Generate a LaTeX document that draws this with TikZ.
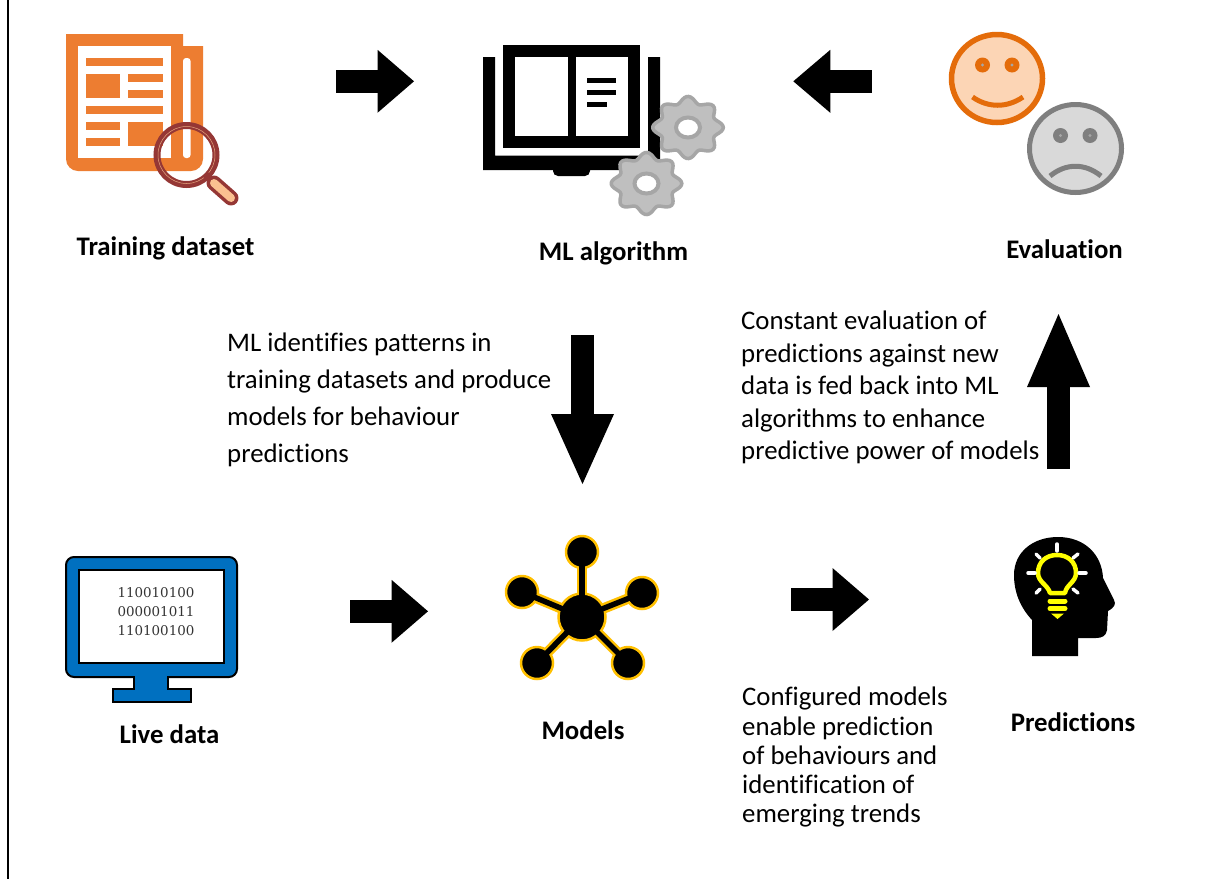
\documentclass[tikz,border=0pt]{standalone}
\usepackage{fontspec}
\setmainfont[Ligatures=NoCommon]{Carlito}
\newfontfamily\binfont{DejaVu Serif}
\usetikzlibrary{arrows.meta}
\definecolor{newsorange}{HTML}{ED7D31}
\definecolor{lensred}{HTML}{953735}
\definecolor{peach}{HTML}{FAC090}
\definecolor{gearfill}{HTML}{BFBFBF}
\definecolor{gearline}{HTML}{A6A6A6}
\definecolor{happyline}{HTML}{E46C0A}
\definecolor{happyfill}{HTML}{FCD5B5}
\definecolor{sadline}{HTML}{7F7F7F}
\definecolor{sadfill}{HTML}{D9D9D9}
\definecolor{screenblue}{HTML}{0070C0}
\definecolor{gold}{HTML}{FFC000}
\definecolor{bulb}{HTML}{FFFF00}
\tikzset{
  blockarrow/.style={draw=black,line width=23pt,-{Triangle[length=#1,width=63pt,line width=0pt]}},
  biglabel/.style={font=\fontsize{26.8}{30}\selectfont\bfseries,inner sep=0pt,anchor=center},
  bodytext/.style={inner sep=0pt,anchor=north west,align=left},
  hub/.style={circle,fill=black,draw=gold,line width=2.5pt,minimum size=#1,inner sep=0pt,outer sep=0pt},
  linkglow/.style={draw=gold,line width=10.5pt},
  linkcore/.style={draw=black,line width=5.5pt,shorten >=-4pt,shorten <=-4pt},
  ray/.style={draw=white,line width=3.5pt,line cap=round},
  filament/.style={draw=bulb,line width=5pt,line cap=round},
  gearbody/.style={fill=gearfill,draw=gearline,line width=3.5pt},
}
\newcommand{\geardraw}[2]{%
  \draw[gearbody] plot[smooth cycle,samples=97,domain=0:356.25,variable=\t]
    ({#1+(31.7+3.6*cos(8*\t))*cos(\t)},{#2+0.88*(31.7+3.6*cos(8*\t))*sin(\t)});
  \draw[fill=white,draw=gearline,line width=4pt] (#1,#2) ellipse[x radius=12,y radius=10];
}
\begin{document}
\begin{tikzpicture}[x=1pt,y=-1pt]
\useasboundingbox (0,0) rectangle (1206,879);
\fill[white] (0,0) rectangle (1206,879);
\draw[black,line width=2pt] (7.5,0) -- (7.5,879);

% newspaper
\fill[newsorange] (66,34) -- (183,34) -- (183,46) -- (203,46) -- (203,159) arc[start angle=0,end angle=90,radius=12] -- (78,171) arc[start angle=90,end angle=180,radius=12] -- cycle;
\fill[white] (78,46) rectangle (171,158);
\fill[white,rounded corners=3pt] (183,58) -- (190.5,58) -- (190.5,158) -- (183,158) -- cycle;
\fill[newsorange] (86,58) rectangle (163,66);
\fill[newsorange] (86,74) rectangle (120,98);
\fill[newsorange] (128,74) rectangle (163,82);
\fill[newsorange] (128,90) rectangle (163,98);
\fill[newsorange] (86,106) rectangle (163,114);
\fill[newsorange] (86,122) rectangle (120,130);
\fill[newsorange] (86,138) rectangle (120,146);
\fill[newsorange] (128,122) rectangle (163,146);
% magnifier
\draw[lensred,line width=7pt] (186.5,155) circle[radius=29.5];
\draw[peach,line width=.5pt,opacity=.8] (186.5,155) circle[radius=28.5];
\draw[lensred,line width=7pt] (205,174) -- (214,183);
\draw[lensred,line width=15pt,line cap=round] (214,183) -- (231,198);
\draw[peach,line width=8pt,line cap=round] (214,183) -- (231,198);

% book
\fill[black] (503,45) rectangle (640,148);
\fill[white] (515,57) rectangle (567.5,136);
\fill[white] (575.5,57) rectangle (628,136);
\fill[black] (587,77.5) rectangle (616,83);
\fill[black] (587,89.5) rectangle (616,95);
\fill[black] (587,101.5) rectangle (607,107);
\fill[black] (483,57) -- (495,57) -- (495,155.5) -- (648,155.5) -- (648,57) -- (660,57) -- (660,170) -- (483,170) -- cycle;
\fill[black,rounded corners=5pt] (553,165) -- (590,165) -- (590,176) -- (553,176) -- cycle;
\geardraw{688}{127.5}
\geardraw{646.5}{183.5}

% faces
\draw[happyline,fill=happyfill,line width=5.5pt] (997,78.5) ellipse[x radius=45.5,y radius=44];
\fill[happyline] (982.5,65) circle[radius=7.5] (1012,65) circle[radius=7.5];
\fill[gearline] (982.5,65) circle[radius=1.6] (1012,65) circle[radius=1.6];
\draw[happyline,line width=5pt] (972.5,97) .. controls (988,108) and (1007,108) .. (1023,97);
\draw[sadline,fill=sadfill,line width=5pt] (1075.5,148.5) ellipse[x radius=46,y radius=44];
\fill[sadline] (1060.5,135.5) circle[radius=7.5] (1090,135.5) circle[radius=7.5];
\fill[gearline] (1060.5,135.5) circle[radius=1.6] (1090,135.5) circle[radius=1.6];
\draw[sadline,line width=5pt] (1050,176) .. controls (1066,163) and (1085,163) .. (1101,176);

% monitor
\draw[black,fill=screenblue,line width=2pt] (134,676) -- (134,689) -- (113,689) -- (113,702) -- (191,702) -- (191,689) -- (168,689) -- (168,676) -- cycle;
\draw[black,fill=screenblue,line width=2pt,rounded corners=8pt] (66,557) rectangle (237,677);
\draw[black,fill=white,line width=2pt] (79,570) rectangle (224,663);
\fill[screenblue] (135,675) rectangle (167,690);
\node[inner sep=0pt,align=center,font=\fontsize{13.4}{19}\binfont,text=black!80] (bits) at (156,612) {110010100\\000001011\\110100100};

% network
\node[hub=47pt] (nc) at (582,617) {};
\node[hub=32pt] (n1) at (582,552) {};
\node[hub=32pt] (n2) at (522,592) {};
\node[hub=32pt] (n3) at (642,593) {};
\node[hub=32pt] (n4) at (537,663) {};
\node[hub=32pt] (n5) at (628,663) {};
\foreach \n in {n1,n2,n3,n4,n5} {
  \draw[linkglow] (nc) -- (\n);
  \draw[linkcore] (nc) -- (\n);
}

% head with bulb
\fill[black] (1032,656) -- (1032,620) .. controls (1020,607) and (1014,592) .. (1014,575) .. controls (1014,552) and (1033,537) .. (1058,537) .. controls (1085,537) and (1102,555) .. (1103,578) -- (1114,600) .. controls (1116,604) and (1115,607) .. (1108,611) -- (1107,630) .. controls (1106,636) and (1102,638) .. (1096,638) -- (1078,638) -- (1078,656) -- cycle;
\draw[bulb,line width=4.5pt,line join=round] (1050,593) -- (1065,593) .. controls (1066,585) and (1076,582) .. (1076,573) .. controls (1076,562) and (1068,555) .. (1057,555) .. controls (1046,555) and (1038,562) .. (1038,573) .. controls (1038,582) and (1048,585) .. cycle;
\draw[filament] (1050,601) -- (1065,601);
\draw[filament] (1050,608.5) -- (1065,608.5);
\fill[bulb] (1051,613.5) -- (1064,613.5) -- (1057.5,619) -- cycle;
\draw[ray] (1057,544) -- (1057,551);
\draw[ray] (1028,573) -- (1035,573);
\draw[ray] (1079,573) -- (1086,573);
\draw[ray] (1036,554) -- (1040,558);
\draw[ray] (1078,554) -- (1073,558);
\draw[ray] (1036,593) -- (1040,589);
\draw[ray] (1078,593) -- (1073,589);

% arrows
\coordinate (a1s) at (336,81.3); \coordinate (a1e) at (414,81.3);
\coordinate (a2s) at (871.7,81.3); \coordinate (a2e) at (793.3,81.3);
\coordinate (a3s) at (582.5,335); \coordinate (a3e) at (582.5,484);
\coordinate (a4s) at (1058.5,469); \coordinate (a4e) at (1058.5,314);
\coordinate (a5s) at (350,611.3); \coordinate (a5e) at (428,611.3);
\coordinate (a6s) at (791,599.5); \coordinate (a6e) at (869,599.5);
\draw[blockarrow=36.5pt] (a1s) -- (a1e);
\draw[blockarrow=37pt] (a2s) -- (a2e);
\draw[blockarrow=70pt] (a3s) -- (a3e);
\draw[blockarrow=73pt] (a4s) -- (a4e);
\draw[blockarrow=36.5pt] (a5s) -- (a5e);
\draw[blockarrow=36.5pt] (a6s) -- (a6e);

% labels
\node[biglabel] (l1) at (165.5,248) {Training dataset};
\node[biglabel] (l2) at (613.5,253) {ML algorithm};
\node[biglabel] (l3) at (1064.5,249) {Evaluation};
\node[biglabel] (l4) at (169.5,734) {Live data};
\node[biglabel] (l5) at (583,730) {Models};
\node[biglabel] (l6) at (1073,722) {Predictions};

\node[bodytext,font=\fontsize{26.8}{37}\selectfont] (t1) at (227,333) {ML identifies patterns in\\training datasets and produce\\models for behaviour\\predictions};
\node[bodytext,font=\fontsize{26.8}{32.5}\selectfont] (t2) at (741,311) {Constant evaluation of\\predictions against new\\data is fed back into ML\\algorithms to enhance\\predictive power of models};
\node[bodytext,font=\fontsize{26.8}{29.2}\selectfont] (t3) at (742,687) {Configured models\\enable prediction\\of behaviours and\\identification of\\emerging trends};
\end{tikzpicture}
\end{document}
